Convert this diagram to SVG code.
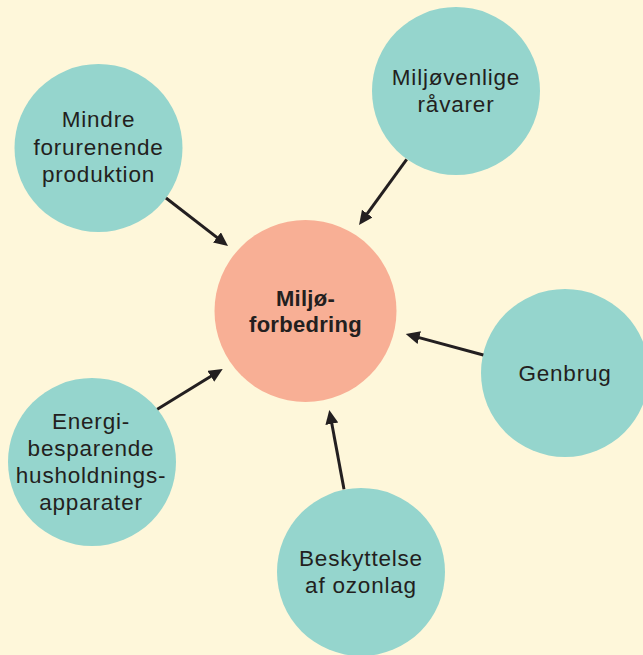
<svg xmlns="http://www.w3.org/2000/svg" width="643" height="655" viewBox="0 0 643 655">
<defs>
<style>
.bg{fill:#FEF7DA}
.node{fill:#95D5CD}
.center{fill:#F8AF95}
.lbl{font-family:"Liberation Sans",Arial,sans-serif;font-size:22.5px;letter-spacing:0.8px;fill:#231F20;text-anchor:middle}
.bold{font-weight:bold;font-size:22px;letter-spacing:0.3px}
.conn{stroke:#231F20;stroke-width:3;fill:none;marker-end:url(#ah)}
</style>
<marker id="ah" markerUnits="userSpaceOnUse" markerWidth="16" markerHeight="14" refX="4" refY="6.5" orient="auto" viewBox="0 0 16 14">
<path d="M0,0 L14,6.5 L0,13 Z" fill="#231F20"/>
</marker>
</defs>
<rect class="bg" x="0" y="0" width="643" height="655"/>
<g id="center-node">
<circle class="center" cx="305.5" cy="311" r="91"/>
<text class="lbl bold" x="305.5" y="306">Miljø-</text>
<text class="lbl bold" x="305.5" y="332">forbedring</text>
</g>
<g id="node-mindre">
<circle class="node" cx="98.5" cy="148" r="84"/>
<text class="lbl" x="98.5" y="127">Mindre</text>
<text class="lbl" x="98.5" y="154.5">forurenende</text>
<text class="lbl" x="98.5" y="182">produktion</text>
</g>
<g id="node-miljovenlige">
<circle class="node" cx="456" cy="91" r="84"/>
<text class="lbl" x="456" y="84.5">Miljøvenlige</text>
<text class="lbl" x="456" y="111.5">råvarer</text>
</g>
<g id="node-genbrug">
<circle class="node" cx="565" cy="373" r="84"/>
<text class="lbl" x="565" y="381">Genbrug</text>
</g>
<g id="node-energi">
<circle class="node" cx="92" cy="462" r="84"/>
<text class="lbl" x="91" y="429">Energi-</text>
<text class="lbl" x="91" y="456">besparende</text>
<text class="lbl" x="91" y="483">husholdnings-</text>
<text class="lbl" x="91" y="509.5">apparater</text>
</g>
<g id="node-beskyttelse">
<circle class="node" cx="361" cy="572" r="84"/>
<text class="lbl" x="361" y="566">Beskyttelse</text>
<text class="lbl" x="361" y="593">af ozonlag</text>
</g>
<g id="connectors">
<line class="conn" x1="166" y1="198" x2="220.1" y2="239.9"/>
<line class="conn" x1="406.7" y1="159.3" x2="364.9" y2="216.9"/>
<line class="conn" x1="483.3" y1="355" x2="415.4" y2="336.6"/>
<line class="conn" x1="157.3" y1="409.3" x2="214.2" y2="374.2"/>
<line class="conn" x1="344" y1="489.3" x2="331.1" y2="419.8"/>
</g>
</svg>
